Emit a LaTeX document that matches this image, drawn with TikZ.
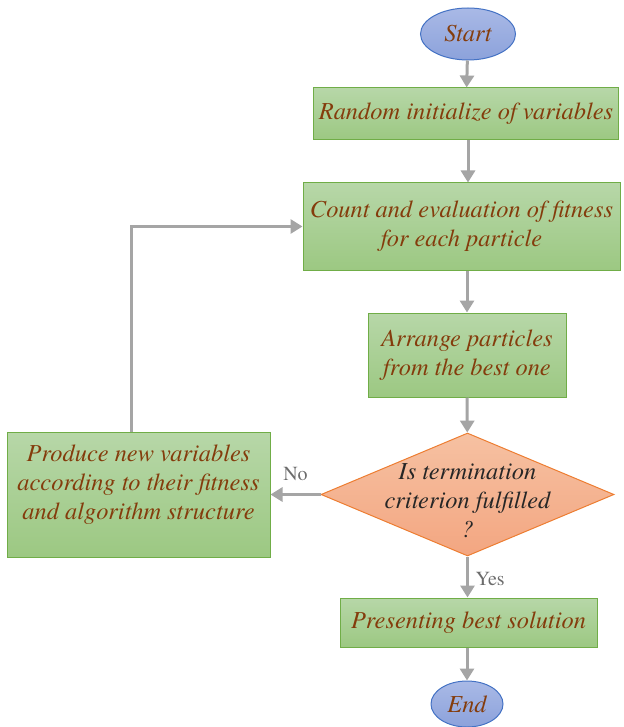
\documentclass[tikz,border=0pt]{standalone}
\usepackage{fontspec}
\setmainfont{texgyretermes}[Extension=.otf, UprightFont=*-regular, ItalicFont=*-italic, BoldFont=*-bold]
\usepackage{xcolor}
\usetikzlibrary{shapes.geometric,arrows.meta}
\definecolor{brn}{HTML}{843C0C}
\definecolor{arr}{HTML}{A5A5A5}

\begin{document}
\begin{tikzpicture}[x=0.5pt,y=-0.5pt,
    every node/.style={font=\fontsize{12.2}{14.5}\selectfont\itshape, text=brn, align=center},
    terminal/.style={ellipse, draw={rgb,255:red,68;green,114;blue,196}, line width=0.5pt, top color={rgb,255:red,169;green,185;blue,230}, bottom color={rgb,255:red,140;green,162;blue,219}, inner sep=0pt},
    process/.style={rectangle, draw={rgb,255:red,112;green,173;blue,71}, line width=0.5pt, top color={rgb,255:red,183;green,215;blue,168}, bottom color={rgb,255:red,156;green,200;blue,130}, inner sep=2pt},
    decision/.style={diamond, draw={rgb,255:red,237;green,125;blue,49}, line width=0.5pt, top color={rgb,255:red,246;green,193;blue,162}, bottom color={rgb,255:red,243;green,166;blue,129}, inner sep=0pt, minimum width=146.5pt, minimum height=61.5pt},
    flow/.style={draw=arr, line width=1.5pt, -{Triangle[length=6pt,width=7pt]}},
    answer/.style={font=\fontsize{10}{11}\selectfont, text=gray!85!black}]
        \useasboundingbox (0,0) rectangle (623,727);
        \node[terminal, minimum width=47.5pt, minimum height=26pt] (start) at (468,34) {Start};
        \node[process, minimum width=152.5pt, minimum height=26pt] (init) at (466,114) {Random initialize of variables};
        \node[process, minimum width=158.5pt, minimum height=43.5pt] (count) at (461.5,226.5) {Count and evaluation of fitness\\for each particle};
        \node[process, minimum width=99pt, minimum height=42pt] (arrange) at (467,355) {Arrange particles\\from the best one};
        \node[decision] (check) at (467.5,494.5) {};
        \node[text=black!85] (checktext) at (467.5,501) {Is termination\\criterion fulfilled\\?};
        \node[process, minimum width=131.5pt, minimum height=62.5pt, text depth=12pt] (produce) at (138.5,494.5) {Produce new variables\\according to their fitness\\and algorithm structure};
        \node[process, minimum width=128.5pt, minimum height=24.5pt] (present) at (468.5,622.5) {Presenting best solution};
        \node[terminal, minimum width=36pt, minimum height=23pt] (end) at (467,704) {End};
        \draw[flow] (start) -- (init);
        \draw[flow] (init.south -| start) -- (count.north -| start);
        \draw[flow] (count.south -| arrange) -- (arrange);
        \draw[flow] (arrange) -- (check);
        \draw[flow] (check.west) -- node[answer, above, yshift=3pt] {No} (produce.east);
        \draw[flow] ([xshift=-3.5pt]produce.north) |- (count.west);
        \draw[flow] (check.south) -- node[answer, right, yshift=-1pt] {Yes} (present.north -| check);
        \draw[flow] (present.south -| end) -- (end);
    \end{tikzpicture}
\end{document}
